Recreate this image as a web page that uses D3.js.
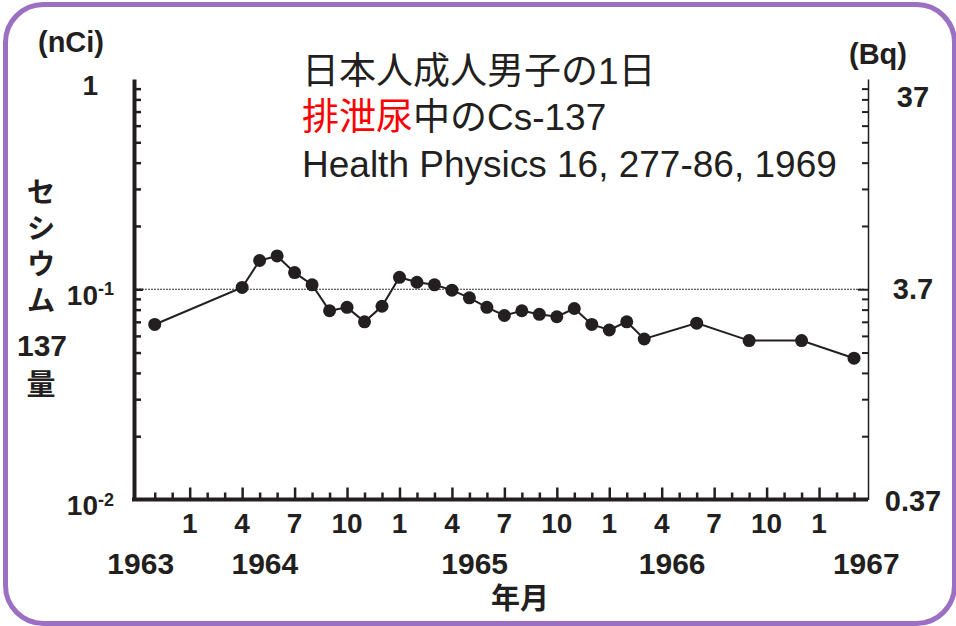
<!DOCTYPE html>
<html><head><meta charset="utf-8">
<script src="https://cdn.jsdelivr.net/npm/d3@7"></script>
<style>
html,body{margin:0;padding:0;background:#fff;}
svg{display:block;}
</style>
</head><body>
<svg id="chart" width="956" height="626"></svg>
<script>
// ---- data ----
const months = ["1963-11","1964-04","1964-05","1964-06","1964-07","1964-08","1964-09","1964-10","1964-11","1964-12",
  "1965-01","1965-02","1965-03","1965-04","1965-05","1965-06","1965-07","1965-08","1965-09","1965-10","1965-11","1965-12",
  "1966-01","1966-02","1966-03","1966-06","1966-09","1966-12","1967-03"];
const cs137nCi = [0.068,0.102,0.137,0.144,0.120,0.105,0.079,0.082,0.070,0.083,
  0.114,0.108,0.105,0.099,0.091,0.082,0.075,0.079,0.076,0.074,0.081,0.068,
  0.064,0.070,0.058,0.069,0.057,0.057,0.047];
const monthTickLabels = ["1","4","7","10","1","4","7","10","1","4","7","10","1"];
const yearLabels = ["1963","1964","1965","1966","1967"];
const leftTickLabels = [{v:1, base:"1", sup:""},{v:0.1, base:"10", sup:"-1"},{v:0.01, base:"10", sup:"-2"}];
const rightTickLabels = ["37","3.7","0.37"];
const titleLines = ["日本人成人男子の1日","中のCs-137","Health Physics 16, 277-86, 1969"];
const titleRed = "排泄尿";
const yTitleKana = "セシウム";
const yTitleNum = "137";
const yTitleUnit = "量";

// ---- helpers ----
const monthIndex = s => { const [y,m] = s.split("-").map(Number); return (y-1964)*12 + (m-1); };

const svg = d3.select("#chart");
const ink = "#231f20";
const boldFont = "'Liberation Sans', Arial, 'Noto Sans CJK JP', sans-serif";
const jpFont = "'Noto Sans CJK JP', 'Liberation Sans', sans-serif";

// border
svg.append("rect").attr("x",5.5).attr("y",4.5).attr("width",949).attr("height",619)
  .attr("rx",38).attr("ry",38).attr("fill","#fff").attr("stroke","#9b70c3").attr("stroke-width",5);

const x = d3.scaleLinear().domain([-3.3, 38.8]).range([132, 868]);
const y = d3.scaleLog().domain([0.01, 1]).range([499.5, 79]);

// minor ticks values
const minorVals = [];
[0.01,0.1].forEach(d => { for (let k=2;k<=9;k++) minorVals.push(+(d*k).toFixed(3)); });

// dotted reference line at 0.1
svg.append("line").attr("x1",x.range()[0]+4).attr("x2",x.range()[1]-4)
  .attr("y1",y(0.1)).attr("y2",y(0.1))
  .attr("stroke","#333").attr("stroke-width",1).attr("stroke-dasharray","2,1");

// left axis (ticks inward)
const gL = svg.append("g").attr("transform",`translate(134,0)`)
  .call(d3.axisRight(y).tickValues(minorVals).tickSize(7).tickSizeOuter(0).tickFormat(""));
gL.select(".domain").attr("stroke",ink).attr("stroke-width",4);
gL.selectAll(".tick line").attr("stroke",ink).attr("stroke-width",2.5);
const gL2 = svg.append("g").attr("transform",`translate(134,0)`)
  .call(d3.axisRight(y).tickValues([0.1]).tickSize(9).tickSizeOuter(0).tickFormat(""));
gL2.select(".domain").remove();
gL2.selectAll(".tick line").attr("stroke",ink).attr("stroke-width",2.5);

// right axis (ticks inward)
const gR = svg.append("g").attr("transform",`translate(868,0)`)
  .call(d3.axisLeft(y).tickValues(minorVals).tickSize(6).tickSizeOuter(0).tickFormat(""));
gR.select(".domain").attr("stroke",ink).attr("stroke-width",1.5);
gR.selectAll(".tick line").attr("stroke",ink).attr("stroke-width",2);
const gR2 = svg.append("g").attr("transform",`translate(868,0)`)
  .call(d3.axisLeft(y).tickValues([0.1]).tickSize(10).tickSizeOuter(0).tickFormat(""));
gR2.select(".domain").remove();
gR2.selectAll(".tick line").attr("stroke",ink).attr("stroke-width",2);

// bottom axis
const allMonths = d3.range(-2, 39);
const majorMonths = allMonths.filter(m => m>=0 && m<=36 && m%3===0);
const minorMonths = allMonths.filter(m => !majorMonths.includes(m));
const gB = svg.append("g").attr("transform",`translate(0,${y(0.01)})`)
  .call(d3.axisTop(x).tickValues(minorMonths).tickSize(7).tickSizeOuter(0).tickFormat(""));
gB.select(".domain").attr("stroke",ink).attr("stroke-width",4).attr("d",`M${x.range()[0]},0H${x.range()[1]}`);
gB.selectAll(".tick line").attr("stroke",ink).attr("stroke-width",2.5);
const gB2 = svg.append("g").attr("transform",`translate(0,${y(0.01)})`)
  .call(d3.axisTop(x).tickValues(majorMonths).tickSize(12).tickSizeOuter(0).tickFormat(""));
gB2.select(".domain").remove();
gB2.selectAll(".tick line").attr("stroke",ink).attr("stroke-width",2.5);

// month labels
svg.append("g").selectAll("text").data(monthTickLabels).join("text")
  .attr("x",(d,i)=>x(majorMonths[i])).attr("y",533)
  .attr("text-anchor","middle").attr("font-family",boldFont).attr("font-weight","bold")
  .attr("font-size",28).attr("fill",ink).text(d=>d);

// year labels (placed along the time scale)
const yearPos = [-2.8, 4.3, 16.3, 27.6, 38.7];
svg.append("g").selectAll("text").data(yearLabels).join("text")
  .attr("x",(d,i)=>x(yearPos[i])).attr("y",574)
  .attr("text-anchor","middle").attr("font-family",boldFont).attr("font-weight","bold")
  .attr("font-size",30).attr("fill",ink).text(d=>d);

svg.append("text").attr("x",520).attr("y",609).attr("text-anchor","middle")
  .attr("font-family",jpFont).attr("font-weight","bold").attr("font-size",29).attr("fill",ink).text("年月");

// left tick labels
leftTickLabels.forEach(d => {
  svg.append("text").attr("x",98).attr("y",y(d.v)+15.5).attr("text-anchor","end")
    .attr("font-family",boldFont).attr("font-weight","bold").attr("font-size",28).attr("fill",ink).text(d.base);
  if (d.sup) svg.append("text").attr("x",98).attr("y",y(d.v)+6).attr("text-anchor","start")
    .attr("font-family",boldFont).attr("font-weight","bold").attr("font-size",18).attr("fill",ink).text(d.sup);
});

// right tick labels
const rightVals = [1, 0.1, 0.01];
const rightDy = [28, 10, 11];
svg.append("g").selectAll("text").data(rightTickLabels).join("text")
  .attr("x",913).attr("y",(d,i)=>y(rightVals[i])+rightDy[i]).attr("text-anchor","middle")
  .attr("font-family",boldFont).attr("font-weight","bold").attr("font-size",29).attr("fill",ink).text(d=>d);

// units
svg.append("text").attr("x",71).attr("y",52).attr("text-anchor","middle")
  .attr("font-family",boldFont).attr("font-weight","bold").attr("font-size",29).attr("fill",ink).text("(nCi)");
svg.append("text").attr("x",878).attr("y",64).attr("text-anchor","middle")
  .attr("font-family",boldFont).attr("font-weight","bold").attr("font-size",29).attr("fill",ink).text("(Bq)");

// y title: vertical kana, then number and unit
svg.append("text").attr("x",41).attr("y",177)
  .attr("writing-mode","vertical-rl").attr("text-anchor","start")
  .attr("letter-spacing",7)
  .attr("font-family",jpFont).attr("font-weight","bold").attr("font-size",29).attr("fill",ink).text(yTitleKana);
svg.append("text").attr("x",42).attr("y",356).attr("text-anchor","middle")
  .attr("font-family",boldFont).attr("font-weight","bold").attr("font-size",30).attr("fill",ink).text(yTitleNum);
svg.append("text").attr("x",41).attr("y",369)
  .attr("writing-mode","vertical-rl").attr("text-anchor","start")
  .attr("font-family",jpFont).attr("font-weight","bold").attr("font-size",29).attr("fill",ink).text(yTitleUnit);

// title
const tFont = "'Liberation Sans', Arial, 'Noto Sans CJK JP', sans-serif";
svg.append("text").attr("x",302).attr("y",84).attr("font-family",tFont).attr("font-size",37).attr("fill",ink).text(titleLines[0]);
const t2 = svg.append("text").attr("x",302).attr("y",130).attr("font-family",tFont).attr("font-size",37).attr("fill",ink);
t2.append("tspan").attr("fill","#ff0000").text(titleRed);
t2.append("tspan").text(titleLines[1]);
svg.append("text").attr("x",302).attr("y",177).attr("font-family",tFont).attr("font-size",37).attr("fill",ink).text(titleLines[2]);

// series
const pts = months.map((m,i)=>({m:monthIndex(m), v:cs137nCi[i]}));
svg.append("path").datum(pts)
  .attr("d", d3.line().x(d=>x(d.m)).y(d=>y(d.v)))
  .attr("fill","none").attr("stroke",ink).attr("stroke-width",2);
svg.append("g").selectAll("circle").data(pts).join("circle")
  .attr("cx",d=>x(d.m)).attr("cy",d=>y(d.v)).attr("r",6.5).attr("fill",ink);
</script>
</body></html>
